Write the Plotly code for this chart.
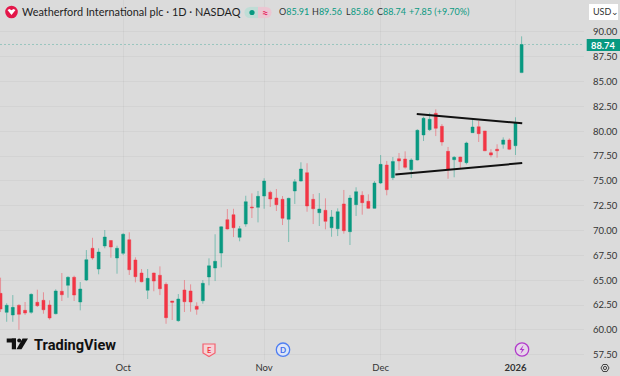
import plotly.graph_objects as go

opens = [63.68,61.77,61.50,62.48,61.97,61.77,62.78,62.98,62.51,61.63,63.89,64.49,65.30,62.81,65.02,68.22,66.13,68.45,69.00,67.24,
67.71,69.08,67.04,65.73,63.99,65.73,65.50,64.59,62.91,60.93,64.02,63.92,62.38,62.94,65.33,66.23,67.74,71.10,71.60,69.32,
70.66,72.38,72.34,73.48,73.86,73.28,73.15,71.14,73.99,74.99,75.83,73.15,71.80,72.04,70.29,70.19,72.68,69.89,72.61,73.55,
72.95,72.24,74.79,76.60,75.33,77.24,77.21,76.13,77.11,79.63,80.16,81.81,80.50,77.98,77.14,77.41,76.84,79.86,80.46,80.03,
77.84,78.19,78.69,79.12,78.55,85.91]
closes = [62.10,62.48,62.27,61.57,61.70,63.58,62.44,62.03,61.20,63.92,63.54,65.30,63.51,64.12,67.07,67.24,67.84,69.35,68.35,68.22,
69.63,66.06,65.36,64.85,65.19,64.92,64.15,61.23,62.78,63.11,62.84,62.81,62.07,64.69,66.46,66.91,70.38,70.16,70.29,70.19,
72.91,72.30,73.45,74.99,73.18,72.61,71.24,73.25,74.92,76.20,72.48,72.20,72.17,70.93,71.37,71.90,69.99,73.28,73.92,72.81,
72.24,74.79,76.67,74.12,76.96,77.01,76.37,77.11,80.10,81.31,81.21,80.30,78.92,76.17,77.38,76.94,78.82,80.43,79.76,78.04,
77.61,78.04,79.12,78.19,80.86,88.74]
highs = [65.26,62.68,63.51,62.58,62.81,63.68,64.05,63.79,62.98,64.09,65.73,65.40,65.46,64.82,68.04,69.28,68.22,70.06,69.05,68.48,
69.73,69.83,67.31,66.13,66.13,65.76,66.40,64.79,62.91,63.61,65.02,64.59,62.78,65.02,67.21,69.63,70.43,72.17,72.20,70.46,
73.51,73.75,73.99,75.27,74.02,74.19,73.48,73.31,75.19,76.88,76.78,73.68,73.78,73.25,72.07,72.24,74.09,73.58,74.36,73.96,
73.65,74.99,77.61,77.01,77.41,77.81,77.98,77.28,80.20,81.47,81.87,82.21,80.73,78.42,77.51,77.44,78.95,81.24,81.04,80.03,
78.19,78.69,79.39,79.29,81.41,89.56]
lows = [61.80,60.82,60.82,60.02,61.50,61.63,62.31,61.63,61.03,61.57,62.91,63.24,62.91,61.97,64.92,67.07,65.60,68.22,67.27,65.66,
67.54,65.53,64.79,64.79,63.11,63.89,63.51,60.62,61.00,60.82,61.80,61.83,61.53,62.64,64.49,64.92,66.30,70.11,69.35,68.92,
70.39,71.27,70.83,72.20,72.38,71.97,70.56,68.85,72.68,74.94,71.90,70.66,70.46,70.13,69.38,69.45,69.69,68.55,71.47,71.60,
72.20,72.20,74.69,73.55,75.09,76.10,76.23,75.30,77.06,79.02,80.03,79.52,78.55,75.22,75.37,76.20,76.67,79.84,78.92,78.01,
77.38,77.34,78.25,78.11,77.61,85.86]

tick_bars = [20, 43, 62, 84]
tick_labels = ["Oct", "Nov", "Dec", "<b>2026</b>"]
price_ticks = [57.5, 60, 62.5, 65, 67.5, 70, 72.5, 75, 77.5, 80, 82.5, 85, 87.5, 90]
upper_channel_x = [67.9, 85.1]
upper_channel_y = [81.74, 80.80]
lower_channel_x = [64.4, 85.1]
lower_channel_y = [75.66, 76.80]
last_price = 88.74

UP = "#089981"
DOWN = "#F23645"
BG = "#DBDBDB"
W, H = 620, 376
PLOT_W, PLOT_H = 584, 360

def px(x): return x / PLOT_W
def py(y): return 1 - y / PLOT_H

fig = go.Figure()
fig.add_trace(go.Candlestick(
    x=list(range(len(opens))), open=opens, high=highs, low=lows, close=closes,
    increasing=dict(line=dict(color="rgba(8,153,129,0.45)", width=1), fillcolor=UP),
    decreasing=dict(line=dict(color="rgba(242,54,69,0.45)", width=1), fillcolor=DOWN),
    hoverinfo="skip", showlegend=False))
for xs, ys in ((upper_channel_x, upper_channel_y), (lower_channel_x, lower_channel_y)):
    fig.add_trace(go.Scatter(x=xs, y=ys, mode="lines", hoverinfo="skip", showlegend=False,
                             line=dict(color="#111111", width=2)))

shapes = []
anns = []

def text(x, y, s, size=10, color="#2a2a2a", anchor="left", font="Lato"):
    anns.append(dict(xref="paper", yref="paper", x=px(x), y=py(y), text=s, showarrow=False,
                     xanchor=anchor, yanchor="middle", align=anchor, borderpad=0,
                     font=dict(size=size, color=color, family=font)))

def rect(x0, y0, x1, y1, fill, line=None, lw=0):
    shapes.append(dict(type="rect", xref="paper", yref="paper", x0=px(x0), x1=px(x1), y0=py(y0), y1=py(y1),
                       fillcolor=fill, line=dict(color=line or fill, width=lw), layer="above"))

def circle(cx, cy, r, fill, line=None, lw=0):
    shapes.append(dict(type="circle", xref="paper", yref="paper", x0=px(cx - r), x1=px(cx + r),
                       y0=py(cy + r), y1=py(cy - r), fillcolor=fill,
                       line=dict(color=line or fill, width=lw), layer="above"))

def poly(pts, fill, line=None, lw=0):
    d = "M " + " L ".join(f"{px(a):.5f},{py(b):.5f}" for a, b in pts) + " Z"
    shapes.append(dict(type="path", xref="paper", yref="paper", path=d, fillcolor=fill,
                       line=dict(color=line or fill, width=lw), layer="above"))

# last price line
shapes.append(dict(type="line", xref="paper", yref="y", x0=0, x1=1, y0=last_price, y1=last_price,
                   line=dict(color="rgba(8,153,129,0.3)", width=1, dash="2px,2px"), layer="below"))

# header
circle(11.5, 12, 6.3, "#E3174A")
poly([(7.5, 10), (9.5, 9), (11.5, 10.2), (13.5, 9), (15.5, 10), (11.5, 15)], "#FFFFFF")
text(20.5, 12, "Weatherford International plc · 1D · NASDAQ", size=10.9, color="#1e1e1e")
circle(250, 12.5, 5.6, "#BFDDD6")
rect(250, 6.9, 258, 18.1, "#BFDDD6")
rect(258, 6.9, 266, 18.1, "#EBC6D2")
circle(266, 12.5, 5.6, "#EBC6D2")
circle(252, 12.5, 2.6, UP)
text(264.5, 12.5, "<b>≈</b>", size=11, color="#E8326A", anchor="center")

g = UP
ohlc_letters = ["O", "H", "L", "C"]
ohlc_values = ["85.91", "89.56", "85.86", "88.74"]
ohlc_left = [277.7, 311, 344.5, 376]
for letter, value, left in zip(ohlc_letters, ohlc_values, ohlc_left):
    text(left, 12, f"{letter}<span style='color:{g}'>{value}</span>", size=9, color="#333333")
text(408, 12, f"<span style='color:{g}'>+7.85 (+9.70%)</span>", size=9, color=g)

# TradingView logo
rect(6.7, 338.5, 16, 342.5, "#111111")
rect(11.8, 338.5, 16, 349.3, "#111111")
circle(19.2, 340.5, 2, "#111111")
poly([(22.5, 338.5), (28, 338.5), (21.5, 349.3), (16.5, 349.3)], "#111111")
text(32.5, 344.5, "<b>TradingView</b>", size=14.6, color="#111111", font="Roboto")

# price axis extras
rect(589, 4, 618, 20, "#FFFFFF")
text(592, 12, "USD", size=9, color="#333333")
text(614.5, 11.5, "⌄", size=9, color="#333333", anchor="center", font="DejaVu Sans")
rect(586.7, 39, 620, 51, UP)
text(603, 45, "<b>88.74</b>", size=9.3, color="#FFFFFF", anchor="center")

# events
poly([(203, 344), (215, 344), (215, 353), (209, 356.5), (203, 353)], "#F5D3D7", "#F4606F", 1.2)
text(209, 350, "<b>E</b>", size=7.5, color="#F23645", anchor="center")
circle(283, 349.7, 6.7, "#DDE5F7", "#4F7EF2", 1.3)
text(283, 349.7, "<b>D</b>", size=8, color="#3D6EEA", anchor="center")
circle(522, 349.5, 6.7, "#E6D6EA", "#B23BCB", 1.3)
poly([(523.5, 345), (519.5, 350), (522, 350), (520.5, 354), (524.5, 349), (522, 349)], "#B23BCB")

# settings icon
poly([(601, 368), (603, 364.5), (607, 364.5), (609, 368), (607, 371.5), (603, 371.5)], "rgba(0,0,0,0)", "#444444", 1)
circle(605, 368, 1.6, "rgba(0,0,0,0)", "#444444", 1)

fig.update_layout(
    width=W, height=H, margin=dict(l=0, r=W - PLOT_W, t=0, b=H - PLOT_H),
    paper_bgcolor=BG, plot_bgcolor=BG, showlegend=False, shapes=shapes, annotations=anns,
    xaxis=dict(range=[-0.09, 95.18], rangeslider=dict(visible=False), tickvals=tick_bars, ticktext=tick_labels,
               tickfont=dict(size=9.5, color="#333333", family="Lato"), showline=False, zeroline=False,
               gridcolor="rgba(0,0,0,0.035)", gridwidth=1, ticks="", ticklabelstandoff=0),
    yaxis=dict(range=[56.97, 93.22], side="right", tickvals=price_ticks,
               ticktext=[f"{v:.2f}" for v in price_ticks],
               tickfont=dict(size=9.5, color="#333333", family="Lato"), showline=False, zeroline=False,
               gridcolor="rgba(0,0,0,0.035)", gridwidth=1, ticks="", ticklabelstandoff=8),
)
fig.write_html("out.html", config=dict(displayModeBar=False),
               post_script="document.body.style.margin='0';document.body.style.overflow='hidden';document.documentElement.style.background='#DBDBDB';")
